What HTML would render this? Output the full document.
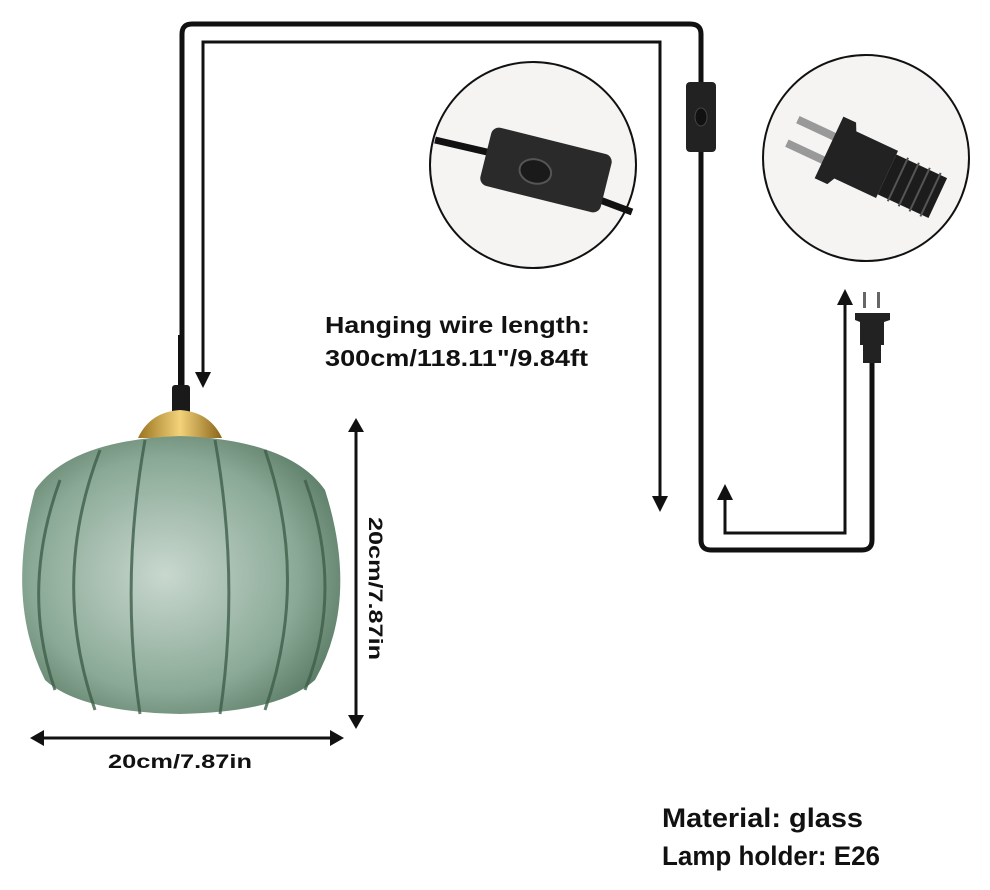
<!DOCTYPE html>
<html><head><style>body{margin:0;background:#fff}svg{display:block}text{font-family:"Liberation Sans",sans-serif;font-weight:bold;fill:#111}</style></head><body>
<svg width="990" height="890" viewBox="0 0 990 890">
<defs>
<radialGradient id="g" cx="0.45" cy="0.5" r="0.6"><stop offset="0" stop-color="#c9d8cf"/><stop offset="0.7" stop-color="#8aa996"/><stop offset="1" stop-color="#5d7e69"/></radialGradient>
<linearGradient id="gold" x1="0" x2="1"><stop offset="0" stop-color="#9a7420"/><stop offset="0.5" stop-color="#f2d27a"/><stop offset="1" stop-color="#8a6518"/></linearGradient>
</defs>
<path d="M182,390 V34 Q182,24 192,24 H690 Q701,24 701,34 V540 Q701,550 711,550 H862 Q872,550 872,540 V362" fill="none" stroke="#111" stroke-width="5"/>
<path d="M203,372 V42 H660 V498" fill="none" stroke="#111" stroke-width="3"/>
<path d="M195,372 L203,388 L211,372z M652,496 L660,512 L668,496z" fill="#111"/>
<path d="M725,500 V533 H845 V305" fill="none" stroke="#111" stroke-width="3"/>
<path d="M717,500 L725,484 L733,500z M837,305 L845,289 L853,305z" fill="#111"/>
<rect x="686" y="82" width="30" height="70" rx="4" fill="#222"/>
<ellipse cx="701" cy="117" rx="6" ry="9" fill="#111" stroke="#444"/>
<rect x="863" y="292" width="3" height="16" fill="#666"/><rect x="877" y="292" width="3" height="16" fill="#666"/>
<path d="M855,313 H890 V320 L884,322 V345 H860 V322 L855,320z" fill="#222"/>
<rect x="863" y="345" width="18" height="18" fill="#222"/>
<circle cx="533" cy="165" r="103" fill="#f6f4f3" stroke="#111" stroke-width="2"/>
<path d="M435,140 L500,155" stroke="#111" stroke-width="7"/>
<path d="M600,200 L632,212" stroke="#111" stroke-width="7"/>
<g transform="rotate(14 546 170)"><rect x="484" y="140" width="124" height="60" rx="8" fill="#2a2a2a"/><ellipse cx="536" cy="174" rx="16" ry="12" fill="#1a1a1a" stroke="#555" stroke-width="2"/></g>
<circle cx="866" cy="158" r="103" fill="#f6f4f3" stroke="#111" stroke-width="2"/>
<g transform="rotate(-65 866 158)">
<rect x="842" y="80" width="8" height="44" fill="#999"/><rect x="868" y="80" width="8" height="44" fill="#999"/>
<path d="M826,120 H894 V134 L886,138 V184 H834 V138 L826,134z" fill="#222"/>
<path d="M838,184 H882 V240 H838z" fill="#1c1c1c"/>
<g stroke="#555" stroke-width="2"><line x1="836" y1="196" x2="884" y2="196"/><line x1="836" y1="208" x2="884" y2="208"/><line x1="836" y1="220" x2="884" y2="220"/><line x1="836" y1="232" x2="884" y2="232"/></g>
</g>
<line x1="180" y1="335" x2="180" y2="392" stroke="#111" stroke-width="4"/>
<rect x="172" y="385" width="18" height="30" rx="3" fill="#1a1a1a"/>
<path d="M138,438 Q150,412 180,410 Q210,412 222,438z" fill="url(#gold)"/>
<path d="M35,490 Q70,440 180,436 Q290,440 325,490 Q360,600 315,680 Q280,712 180,714 Q80,712 45,680 Q5,600 35,490z" fill="url(#g)"/>
<g stroke="#3f5f4b" stroke-width="3" fill="none" opacity="0.8">
<path d="M100,450 Q50,580 95,710"/><path d="M145,440 Q120,580 140,714"/><path d="M215,440 Q240,580 220,714"/><path d="M265,450 Q310,580 265,710"/><path d="M60,480 Q20,590 55,690"/><path d="M305,480 Q345,590 305,690"/>
</g>
<line x1="356" y1="430" x2="356" y2="717" stroke="#111" stroke-width="3"/>
<path d="M348,432 L356,418 L364,432z M348,715 L356,729 L364,715z" fill="#111"/>
<line x1="42" y1="738" x2="332" y2="738" stroke="#111" stroke-width="3"/>
<path d="M44,730 L30,738 L44,746z M330,730 L344,738 L330,746z" fill="#111"/>
<text x="108" y="768" font-size="19" textLength="144" lengthAdjust="spacingAndGlyphs">20cm/7.87in</text>
<text transform="translate(369,517) rotate(90)" font-size="19" textLength="143" lengthAdjust="spacingAndGlyphs">20cm/7.87in</text>
<text x="325" y="333" font-size="23" textLength="265" lengthAdjust="spacingAndGlyphs">Hanging wire length:</text>
<text x="325" y="366" font-size="23" textLength="263" lengthAdjust="spacingAndGlyphs">300cm/118.11"/9.84ft</text>
<text x="662" y="827" font-size="27" textLength="201" lengthAdjust="spacingAndGlyphs">Material: glass</text>
<text x="662" y="865" font-size="27" textLength="218" lengthAdjust="spacingAndGlyphs">Lamp holder: E26</text>
</svg>
</body></html>
